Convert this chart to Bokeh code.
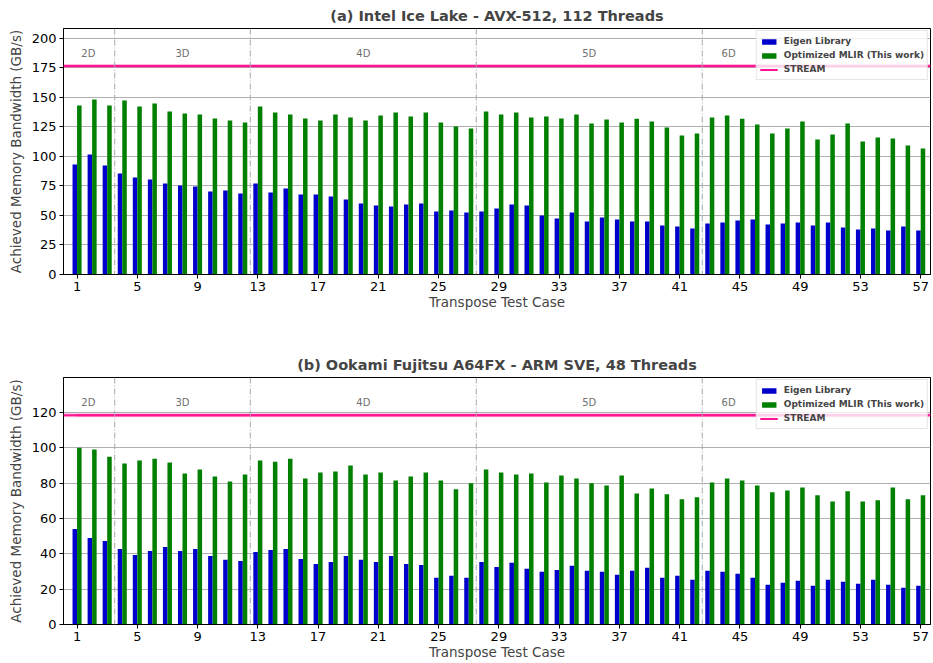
from bokeh.plotting import figure
from bokeh.models import ColumnDataSource, Range1d, Span, Legend, LegendItem, FixedTicker, Label
from bokeh.transform import dodge
from bokeh.layouts import column
from bokeh.embed import file_html
from bokeh.resources import INLINE

cases = list(range(1, 58))
x_ticks = list(range(1, 58, 4))

eigen_a = [93.2, 101.7, 92.4, 85.6, 82.2, 80.5, 77.1, 75.4, 74.6, 70.3,
           71.2, 68.6, 77.1, 69.5, 72.9, 67.8, 67.8, 66.1, 63.6, 60.2,
           58.5, 57.6, 59.3, 60.2, 53.4, 54.2, 52.5, 53.4, 55.9, 59.3,
           58.5, 50.0, 47.5, 52.5, 44.9, 48.3, 46.6, 44.9, 44.9, 41.5,
           40.7, 39.0, 43.2, 44.0, 45.8, 46.6, 42.4, 43.2, 44.0, 41.5,
           44.0, 39.8, 38.1, 39.0, 37.3, 40.7, 37.3]
mlir_a = [143.2, 148.3, 143.2, 147.5, 142.4, 144.9, 138.1, 136.4, 135.6, 132.2,
          130.5, 128.8, 142.4, 137.3, 135.6, 132.2, 130.5, 135.6, 133.0, 130.5,
          134.7, 137.3, 133.9, 137.3, 128.8, 125.4, 123.7, 138.1, 135.6, 137.3,
          133.0, 133.9, 132.2, 135.6, 128.0, 131.4, 128.8, 132.0, 129.7, 124.6,
          117.8, 119.5, 133.0, 134.7, 132.0, 127.0, 119.5, 123.7, 129.7, 114.4,
          118.6, 128.0, 112.7, 116.0, 115.3, 109.3, 106.8]
stream_a = 176.6

eigen_b = [54.0, 48.9, 47.2, 42.7, 39.4, 41.6, 43.9, 41.6, 42.7, 38.8,
           36.6, 36.0, 41.0, 42.2, 42.7, 37.1, 34.3, 35.4, 38.8, 36.6,
           35.4, 38.8, 34.3, 33.7, 26.4, 27.6, 26.4, 35.4, 32.6, 34.9,
           31.5, 29.8, 30.9, 33.2, 30.4, 29.8, 28.1, 30.4, 32.1, 26.4,
           27.6, 25.3, 30.4, 29.8, 28.7, 26.4, 22.5, 23.6, 24.7, 21.9,
           25.3, 24.2, 23.1, 25.3, 22.5, 20.8, 21.9]
mlir_b = [100.1, 99.0, 95.0, 91.1, 92.8, 93.9, 91.7, 85.5, 87.7, 83.8,
          81.0, 84.9, 92.8, 92.2, 93.9, 82.7, 86.0, 86.6, 90.0, 84.9,
          86.0, 81.5, 83.8, 86.0, 81.5, 76.5, 79.9, 87.7, 86.0, 84.9,
          85.5, 80.4, 84.3, 82.7, 79.9, 78.7, 84.3, 74.2, 77.0, 73.7,
          70.9, 72.0, 80.4, 82.7, 81.5, 78.7, 74.8, 75.9, 77.6, 73.1,
          69.7, 75.4, 69.7, 70.3, 77.6, 70.9, 73.1]
stream_b = 118.5

dim_boundaries = [3.5, 12.5, 27.5, 42.5]
dim_labels = ["2D", "3D", "4D", "5D", "6D"]
dim_label_x = [1.75, 8.0, 20.0, 35.0, 44.25]

titles = ["(a) Intel Ice Lake - AVX-512, 112 Threads",
          "(b) Ookami Fujitsu A64FX - ARM SVE, 48 Threads"]
y_ticks_a = list(range(0, 201, 25))
y_ticks_b = list(range(0, 121, 20))

FONT = "DejaVu Sans"
BLUE = "#0000cd"
GREEN = "#008000"
PINK = "#ff1493"


def make_plot(title, eigen, mlir, stream, yticks, height, border_top, border_bottom):
    src = ColumnDataSource(dict(case=cases, eigen=eigen, mlir=mlir,
                                stream=[stream] * len(cases)))
    p = figure(width=931, height=height, output_backend="svg", toolbar_location=None,
               x_range=Range1d(0.1, 57.65), y_range=Range1d(0, stream * 1.18),
               min_border_left=63, min_border_right=1,
               min_border_top=border_top, min_border_bottom=border_bottom)
    p.title.text = title
    p.title.text_font = FONT
    p.title.text_font_size = "14.5px"
    p.title.text_font_style = "bold"
    p.title.align = "center"
    p.title.offset = 0

    b1 = p.vbar(x=dodge("case", -0.15, range=p.x_range), top="eigen", width=0.3, source=src,
                fill_color=BLUE, line_color=None)
    b2 = p.vbar(x=dodge("case", 0.15, range=p.x_range), top="mlir", width=0.3, source=src,
                fill_color=GREEN, line_color=None)

    p.add_layout(Span(location=stream, dimension="width", line_color=PINK,
                      line_width=4, line_alpha=0.3))
    p.add_layout(Span(location=stream, dimension="width", line_color=PINK,
                      line_width=2))
    sline = p.line(x="case", y="stream", source=src, line_color=PINK, line_width=2)

    for b in dim_boundaries:
        p.add_layout(Span(location=b, dimension="height", line_color="#a8a8a8",
                          line_width=1, line_dash="6 2 1 2"))
    for lx, lt in zip(dim_label_x, dim_labels):
        p.add_layout(Label(x=lx, y=stream * 1.06, text=lt, text_align="center",
                           text_baseline="middle", text_font=FONT,
                           text_font_size="10px", text_color="#707070"))

    legend = Legend(items=[LegendItem(label="Eigen Library", renderers=[b1]),
                           LegendItem(label="Optimized MLIR (This work)", renderers=[b2]),
                           LegendItem(label="STREAM", renderers=[sline])],
                    location="top_right")
    legend.label_text_font = FONT
    legend.label_text_font_size = "9px"
    legend.label_text_font_style = "bold"
    legend.label_height = 14
    legend.label_standoff = 6
    legend.glyph_height = 7
    legend.glyph_width = 18
    legend.spacing = 0
    legend.padding = 3
    legend.margin = 2
    legend.border_line_color = "#cccccc"
    legend.background_fill_alpha = 0.8
    p.add_layout(legend)

    p.xaxis.ticker = FixedTicker(ticks=x_ticks)
    p.yaxis.ticker = FixedTicker(ticks=yticks)
    p.xaxis.axis_label = "Transpose Test Case"
    p.yaxis.axis_label = "Achieved Memory Bandwidth (GB/s)"
    for ax in (p.xaxis, p.yaxis):
        ax.axis_label_text_font = FONT
        ax.axis_label_text_font_size = "13.5px"
        ax.axis_label_text_font_style = "normal"
        ax.major_label_text_font = FONT
        ax.major_label_text_font_size = "13px"
        ax.major_label_text_color = "black"
        ax.axis_line_color = "black"
        ax.major_tick_line_color = "black"
        ax.major_tick_out = 4
        ax.major_tick_in = 0
        ax.minor_tick_line_color = None
        ax.major_label_standoff = 3
    p.xaxis.axis_label_standoff = 0
    p.yaxis.axis_label_standoff = 5
    p.xgrid.grid_line_color = None
    p.ygrid.grid_line_color = "#b0b0b0"
    p.ygrid.grid_line_width = 1
    p.outline_line_color = "black"
    p.outline_line_alpha = 1
    return p


p1 = make_plot(titles[0], eigen_a, mlir_a, stream_a, y_ticks_a, 349, 20, 75)
p2 = make_plot(titles[1], eigen_b, mlir_b, stream_b, y_ticks_b, 313, 20, 30)

layout = column(p1, p2, spacing=0)
open("out.html", "w").write(file_html(layout, INLINE))
